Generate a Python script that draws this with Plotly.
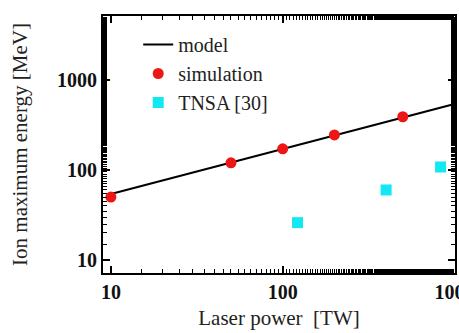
import plotly.graph_objects as go

model_x = [10, 1000]
model_y = [54, 540]

sim_x = [10, 50, 100, 200, 500]
sim_y = [50, 120, 172, 245, 390]

tnsa_x = [122, 400, 830]
tnsa_y = [26, 60, 108]

x_ticks = [10, 100, 1000]
y_ticks = [10, 100, 1000]

FONT = "Liberation Serif, Times New Roman, serif"

fig = go.Figure()
fig.add_trace(go.Scatter(x=model_x, y=model_y, mode="lines", name="model",
                         line=dict(color="black", width=2)))
fig.add_trace(go.Scatter(x=sim_x, y=sim_y, mode="markers", name="simulation",
                         marker=dict(color="#ee1515", size=11, symbol="circle")))
fig.add_trace(go.Scatter(x=tnsa_x, y=tnsa_y, mode="markers", name="TNSA [30]",
                         marker=dict(color="#12e8f2", size=11, symbol="square")))

axis_common = dict(
    type="log", showgrid=False, zeroline=False, automargin=False,
    showline=True, linecolor="black", linewidth=2, mirror="allticks",
    ticks="inside", ticklen=7, tickwidth=1.5, tickcolor="black",
    minor=dict(ticks="inside", ticklen=4, tickcolor="black", tickwidth=1, showgrid=False),
    tickfont=dict(family=FONT, size=20, color="#111", weight="bold"),
    ticklabeloverflow="allow",
)

fig.update_xaxes(**axis_common, range=[0.954, 3.003], tickvals=x_ticks,
                 ticktext=[str(v) for v in x_ticks],
                 title=dict(text="Laser power  [TW]", font=dict(family=FONT, size=21, color="#222"),
                            standoff=8))
fig.update_yaxes(**axis_common, range=[0.856, 3.71], tickvals=y_ticks,
                 ticktext=[str(v) for v in y_ticks],
                 title=dict(text="Ion maximum energy [MeV]", font=dict(family=FONT, size=21, color="#222"),
                            standoff=24))

fig.update_layout(
    width=459, height=333,
    margin=dict(l=103, r=4, t=16, b=60),
    paper_bgcolor="white", plot_bgcolor="white",
    font=dict(family=FONT, size=20, color="#222"),
    showlegend=True,
    legend=dict(x=0.1, y=0.965, xanchor="left", yanchor="top",
                bgcolor="rgba(0,0,0,0)", font=dict(family=FONT, size=20, color="#222"),
                tracegroupgap=0, itemsizing="trace"),
)

fig.write_html("out.html")
